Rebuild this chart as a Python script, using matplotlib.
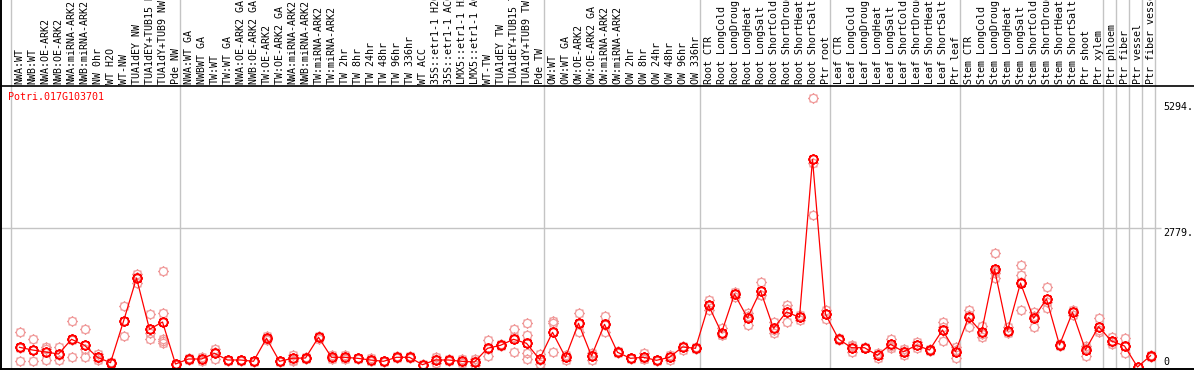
import matplotlib
matplotlib.use("Agg")
import matplotlib.pyplot as plt
import numpy as np
from matplotlib.path import Path
from matplotlib.lines import Line2D
from matplotlib.transforms import blended_transform_factory

# ---------------- data ----------------
gene_id = "Potri.017G103701"

labels = [
    "NWA:WT", "NWB:WT", "NWA:OE-ARK2", "NWB:OE-ARK2", "NWA:miRNA-ARK2", "NWB:miRNA-ARK2",
    "NW 0hr", "WT H2O", "WT-NW", "TUA1dEY NW", "TUA1dEY+TUB15 NW", "TUA1dY+TUB9 NW", "Pde NW",
    "NWA:WT GA", "NWBWT GA", "TW:WT", "TW:WT GA", "NWA:OE-ARK2 GA", "NWB:OE-ARK2 GA",
    "TW:OE-ARK2", "TW:OE-ARK2 GA", "NWA:miRNA-ARK2", "NWB:miRNA-ARK2", "TW:miRNA-ARK2",
    "TW:miRNA-ARK2", "TW 2hr", "TW 8hr", "TW 24hr", "TW 48hr", "TW 96hr", "TW 336hr",
    "WT ACC", "35S::etr1-1 H2O", "35S::etr1-1 ACC", "LMX5::etr1-1 H2O", "LMX5::etr1-1 ACC",
    "WT-TW", "TUA1dEY TW", "TUA1dEY+TUB15 TW", "TUA1dY+TUB9 TW", "Pde TW",
    "OW:WT", "OW:WT GA", "OW:OE-ARK2", "OW:OE-ARK2 GA", "OW:miRNA-ARK2", "OW:miRNA-ARK2",
    "OW 2hr", "OW 8hr", "OW 24hr", "OW 48hr", "OW 96hr", "OW 336hr",
    "Root CTR", "Root LongCold", "Root LongDrought", "Root LongHeat", "Root LongSalt",
    "Root ShortCold", "Root ShortDrought", "Root ShortHeat", "Root ShortSalt", "Ptr root",
    "Leaf CTR", "Leaf LongCold", "Leaf LongDrought", "Leaf LongHeat", "Leaf LongSalt",
    "Leaf ShortCold", "Leaf ShortDrought", "Leaf ShortHeat", "Leaf ShortSalt", "Ptr leaf",
    "Stem CTR", "Stem LongCold", "Stem LongDrought", "Stem LongHeat", "Stem LongSalt",
    "Stem ShortCold", "Stem ShortDrought", "Stem ShortHeat", "Stem ShortSalt", "Ptr shoot",
    "Ptr xylem", "Ptr phloem", "Ptr fiber", "Ptr vessel", "Ptr fiber vessel",
]

# sizes of the sample groups (separated by grey lines)
group_sizes = [13, 28, 12, 10, 10, 11, 1, 1, 1, 1]

means = [
    394, 340, 300, 260, 554, 434, 194, 86, 914, 1780, 754, 900, 60,
    160, 160, 274, 140, 140, 114, 574, 114, 174, 180, 594, 194, 194, 174, 140, 114,
    194, 194, 46, 140, 140, 114, 100, 374, 434, 554, 474, 154,
    694, 194, 874, 220, 854, 294, 174, 194, 134, 194, 400, 374,
    1234, 686, 1460, 980, 1526, 774, 1100, 994, 4154, 1054,
    560, 386, 386, 234, 454, 306, 434, 340, 740, 306,
    994, 694, 1960, 726, 1680, 974, 1360, 440, 1094, 340, 806,
    520, 420, 0, 226,
]

replicates = [
    [694, 374, 114], [560, 346, 114], [394, 366, 140], [394, 246, 140],
    [920, 542, 200], [754, 354, 194], [260, 182, 140], [92, 86, 80],
    [1214, 914, 614], [1860, 1794, 1686], [1060, 674, 554],
    [1914, 1080, 554, 520, 474], [70, 60, 50],
    [180, 160, 140], [200, 160, 126], [360, 302, 160], [150, 140, 130],
    [150, 140, 130], [130, 114, 100], [626, 556, 540], [124, 114, 104],
    [246, 150, 126], [200, 180, 160], [620, 594, 568], [240, 180, 162],
    [240, 188, 154], [190, 174, 158], [174, 130, 116], [124, 114, 104],
    [214, 194, 174], [214, 194, 174], [56, 46, 36], [194, 152, 74],
    [154, 140, 126], [154, 114, 74], [154, 112, 34], [540, 356, 226],
    [454, 434, 414], [760, 596, 306], [874, 640, 474, 286, 154], [260, 142, 60],
    [926, 874, 300], [240, 202, 140], [1074, 854, 694], [274, 246, 140],
    [1020, 848, 694], [314, 294, 274], [190, 174, 158], [274, 154, 154],
    [150, 134, 118], [240, 202, 140], [430, 400, 340], [394, 374, 354],
    [1340, 1222, 1140], [774, 644, 640], [1506, 1468, 1406], [1086, 1020, 834],
    [1700, 1438, 1440], [906, 742, 674], [1240, 1160, 900], [1040, 994, 948],
    [5374, 4074, 3040], [1140, 1068, 954],
    [580, 560, 540], [440, 414, 306], [400, 386, 372], [290, 234, 174],
    [554, 420, 388], [354, 324, 240], [494, 434, 374], [360, 340, 320],
    [894, 806, 520], [406, 338, 174],
    [1140, 1048, 794], [820, 656, 606], [2274, 1874, 1774, 1918], [806, 698, 674],
    [2040, 1834, 1706, 1140], [1106, 1022, 794], [1594, 1300, 1186], [460, 440, 420],
    [1140, 1102, 1040], [426, 374, 220], [974, 750, 694],
    [594, 500, 466], [574, 412, 274], [0, 0, 0], [246, 226, 206],
]

ytick_values = [5294, 2779, 0]
ytick_labels = ["5294.", "2779.", "0"]

# ---------------- figure ----------------
W, H = 1194, 370
fig = plt.figure(figsize=(W / 100, H / 100), dpi=100)
fig.patch.set_facecolor("white")

plot_top, plot_bot = 86, 368          # pixel rows of the plot area
ax = fig.add_axes([0, 1 - plot_bot / H, 1, (plot_bot - plot_top) / H])
ax.set_axis_off()
n = len(labels)
x = np.arange(n)
ax.set_xlim(-1.5, 90.346)
ax.set_ylim(-20, 5620)

font = "DejaVu Sans Mono"
fs = 7.2
grey = "#c4c4c4"
red = "#ff0000"
pink = "#f09a9a"

# custom marker: circle with small spikes
circ = Path.unit_circle()
verts, codes = [], []
for a in np.deg2rad(np.arange(0, 360, 45)):
    verts += [(np.cos(a), np.sin(a)), (1.32 * np.cos(a), 1.32 * np.sin(a))]
    codes += [Path.MOVETO, Path.LINETO]
spiky = Path.make_compound_path(circ, Path(verts, codes))

bt = blended_transform_factory(ax.transData, fig.transFigure)

# group separator lines (full height)
bounds = np.cumsum([0] + group_sizes)
for b in bounds:
    fig.add_artist(Line2D([b - 0.654, b - 0.654], [0, 1], transform=bt,
                          color=grey, lw=1.0, zorder=0))

# horizontal grid line at middle tick
ax.plot([-1.5, 87.8], [2779, 2779], color=grey, lw=1.0, zorder=0, solid_capstyle="butt")

# frame lines
fig.add_artist(Line2D([0, 1], [1 - 86 / H] * 2, transform=fig.transFigure, color="black", lw=1.2))
fig.add_artist(Line2D([0, 1], [1 - 368.5 / H] * 2, transform=fig.transFigure, color="black", lw=1.4))
fig.add_artist(Line2D([0.6 / W, 0.6 / W], [0, 1], transform=fig.transFigure, color="black", lw=1.4))

# replicate points
for i, reps in enumerate(replicates):
    ax.plot([x[i]] * len(reps), reps, linestyle="none", marker=spiky, markersize=7.8,
            markerfacecolor="none", markeredgecolor=pink, markeredgewidth=0.9, zorder=2)

# mean line and markers
ax.plot(x, means, color=red, lw=0.9, zorder=3)
ax.plot(x, means, linestyle="none", marker=spiky, markersize=7.8,
        markerfacecolor="none", markeredgecolor=red, markeredgewidth=1.3, zorder=4)

# sample labels in the header
for i, lab in enumerate(labels):
    ax.text(x[i], 1 - 84 / H, lab, transform=bt, rotation=90, ha="center", va="bottom",
            fontsize=fs, family=font, color="black", clip_on=False)

# right-side value labels
for v, t in zip(ytick_values, ytick_labels):
    ax.text(88.0, v, t, ha="left", va="top" if v > 0 else "bottom",
            fontsize=fs, family=font, color="black")

# gene id
fig.text(8 / W, 1 - 97 / H, gene_id, ha="left", va="center", fontsize=fs,
         family=font, color=red)

fig.savefig("out.png", dpi=100)
